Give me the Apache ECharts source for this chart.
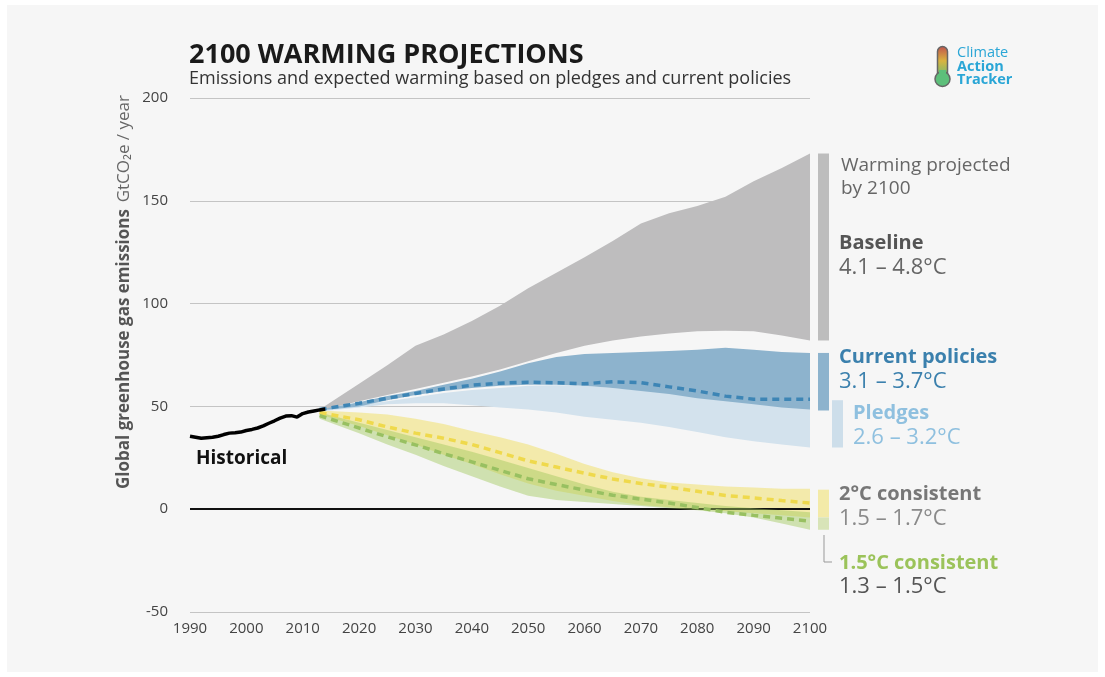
<!DOCTYPE html>
<html><head><meta charset="utf-8">
<script src="https://cdn.jsdelivr.net/npm/echarts@6/dist/echarts.min.js"></script>
<style>html,body{margin:0;padding:0;background:#fff;}#c{width:1105px;height:677px;}</style>
</head><body><div id="c"></div>
<script>
// ---------- DATA ----------
const xTicks = [1990, 2100, 10];            // min, max, step
const yTicks = [-50, 200, 50];
const histYears  = [1990,1991,1992,1993,1994,1995,1996,1997,1998,1999,2000,2001,2002,2003,2004,2005,2006,2007,2008,2009,2010,2011,2012,2013,2014];
const histValues = [35.5,35,34.5,34.8,35,35.5,36.3,37,37.2,37.5,38.3,38.8,39.5,40.5,41.8,43,44.3,45.3,45.5,44.8,46.5,47.3,47.8,48.3,48.7];

const projYears   = [2013,2020,2025,2030,2035,2040,2045,2050,2055,2060,2065,2070,2075,2080,2085,2090,2095,2100];
const baselineHi  = [48.5,61,70,79.5,85,91.5,99,107.5,115,122.5,130.5,139,144,147.5,152,159.5,166,173];
const baselineLo  = [48,52.5,55.5,58.5,61.5,64.5,68,72,76,79.5,82,84,85.5,86.5,86.8,86.5,84.5,82];
const policyHi    = [48.5,52,55,57.5,60.5,63.5,67,71,74,75.5,76,76.5,77,77.5,78.5,77.5,76.5,76];
const policyLo    = [48,50,53,55.5,57.5,59,60,60.5,60.5,60,59,57.5,56,54,52.5,51,49.5,48.5];
const policyMid   = [48.5,51.5,54,56.3,58.5,60.3,61.3,61.8,61.5,61,62,61.5,59.5,57.5,55,53.5,53.5,53.5];
const pledgeHi    = [48,50.5,52.5,54.5,56.5,58,59,60,60.3,60,59,58,56.5,55,54,53.5,53,53];
const pledgeLo    = [47.5,49.5,51,51.5,51.5,50.5,49.5,48.5,47,45,43.5,42,40,37.5,35,33,31.5,30];
const twoHi       = [48,47,46,44,41.5,38,35,31.5,27,22,18,15,13,12,11,10.5,10,10];
const twoMid      = [47,43.5,40,37,34.5,31.5,27.5,23.5,20.5,17.5,14.7,12.5,10.7,8.7,6.7,5.5,4.2,3];
const twoLo       = [46,40.5,36,31.5,26.5,22,17,12.5,9,6.5,4,2,1,0,-1,-2,-3,-4];
const oneFiveHi   = [47,42,38.5,35,31.5,28,24,20,16,12,8.5,6,4.5,3,1.5,0.5,-0.5,-1.5];
const oneFiveMid  = [45.5,39.5,35.2,31.3,27,23,18.9,14.8,12,9.3,6.8,4.9,3,0.8,-1.5,-3,-4.4,-5.8];
const oneFiveLo   = [44,37,31.5,26.5,21,16,11,6.5,4.5,3.5,2.5,1.5,0.5,-0.5,-2,-4,-7,-10];

// emission range at 2100 shown as side bars
const sideBarRanges = [[82,173],[48,76],[30,53],[-4,9.5],[-10,-4]];

// ---------- CHART ----------
const chart = echarts.init(document.getElementById('c'));
const FONT = '"Open Sans", "Noto Sans", sans-serif';

function band(name, lo, hi, color, z) {
  return {type:'custom', name:name, silent:true, z:z, clip:true,
    data: projYears.map((y,i)=>[y, lo[i], hi[i]]),
    renderItem: function(params, api){
      if (params.dataIndex !== 0) return null;
      const pts = [];
      for (let i=0;i<projYears.length;i++) pts.push(api.coord([projYears[i], hi[i]]));
      for (let i=projYears.length-1;i>=0;i--) pts.push(api.coord([projYears[i], lo[i]]));
      return {type:'polygon', shape:{points:pts}, style:{fill:color}};
    }};
}
function dashed(name, vals, color, z) {
  return {type:'line', name:name, symbol:'none', silent:true, z:z,
    lineStyle:{color:color, width:3.5, type:[7,5]},
    data: projYears.map((y,i)=>[y, vals[i]])};
}

const sideBarStyle = [
  {dx:8, w:11, color:'#bdbdbd'},
  {dx:8, w:11, color:'#8db3cd'},
  {dx:22, w:11, color:'#cddeea'},
  {dx:8, w:11, color:'#f3eaa8'},
  {dx:8, w:11, color:'#d8e4b8'}
];

const series = [
  band('Baseline', baselineLo, baselineHi, '#bebdbe', 1),
  band('Pledges', pledgeLo, pledgeHi, '#d3e2ed', 2),
  band('Current policies', policyLo, policyHi, '#8db3cd', 3),
  band('2°C consistent', twoLo, twoHi, 'rgba(240,224,110,0.55)', 4),
  band('1.5°C consistent', oneFiveLo, oneFiveHi, 'rgba(160,200,90,0.45)', 5),
  dashed('Current policies median', policyMid, '#3d85b5', 6),
  dashed('2°C median', twoMid, '#efd94c', 6),
  dashed('1.5°C median', oneFiveMid, '#98c061', 6),
  {type:'line', name:'Historical', symbol:'none', silent:true, z:8,
   lineStyle:{color:'#000', width:3.5},
   data: histYears.map((y,i)=>[y, histValues[i]]),
   markLine:{silent:true, symbol:'none', label:{show:false},
     lineStyle:{color:'#111', width:2, type:'solid'}, data:[{yAxis:0}]}},
  {type:'custom', name:'sidebars', silent:true, z:7, clip:false,
   data: sideBarRanges.map(r=>[xTicks[1], r[0], r[1]]),
   renderItem: function(params, api){
     const s = sideBarStyle[params.dataIndex];
     const p0 = api.coord([api.value(0), api.value(1)]);
     const p1 = api.coord([api.value(0), api.value(2)]);
     return {type:'rect', shape:{x:p0[0]+s.dx, y:p1[1], width:s.w, height:p0[1]-p1[1]},
             style:{fill:s.color}};
   }}
];

function txt(x, y, text, size, color, weight) {
  return {type:'text', z:100, style:{x:x, y:y, text:text, fill:color,
    font:(weight||'normal')+' '+size+'px '+FONT, verticalAlign:'middle', align:'left'}};
}

const graphics = [
  {type:'rect', z:-100, silent:true, shape:{x:7, y:5, width:1091, height:667}, style:{fill:'#f6f6f6'}},
  txt(189, 55, '2100 WARMING PROJECTIONS', 27, '#1a1a1a', 'bold'),
  txt(189, 79, 'Emissions and expected warming based on pledges and current policies', 18, '#333'),
  {type:'text', z:100, x:124, y:292, rotation:Math.PI/2,
   style:{text:'{b|Global greenhouse gas emissions}  {n|GtCO₂e / year}', align:'center', verticalAlign:'middle',
     rich:{b:{font:'bold 17px '+FONT, fill:'#555'}, n:{font:'17px '+FONT, fill:'#666'}}}},
  txt(196, 459, 'Historical', 19, '#111', 'bold'),
  txt(841, 166, 'Warming projected', 19, '#666'),
  txt(841, 189, 'by 2100', 19, '#666'),
  txt(839, 243, 'Baseline', 20, '#555', 'bold'),
  txt(839, 268, '4.1 – 4.8°C', 22, '#666'),
  txt(839, 357, 'Current policies', 20, '#3b80ad', 'bold'),
  txt(839, 382, '3.1 – 3.7°C', 22, '#3b80ad'),
  txt(853, 413, 'Pledges', 20, '#8fc0df', 'bold'),
  txt(853, 438, '2.6 – 3.2°C', 22, '#8fc0df'),
  txt(839, 494, '2°C consistent', 20, '#777', 'bold'),
  txt(839, 519, '1.5 – 1.7°C', 22, '#8a8a8a'),
  txt(839, 563, '1.5°C consistent', 20, '#9bc35a', 'bold'),
  txt(839, 587, '1.3 – 1.5°C', 22, '#555'),
  {type:'polyline', z:100, shape:{points:[[824,535],[824,562],[832,562]]}, style:{stroke:'#999', lineWidth:1, fill:null}},
  // logo
  {type:'rect', z:100, shape:{x:937.5, y:46.5, width:10, height:32, r:5},
   style:{fill:new echarts.graphic.LinearGradient(0,0,0,1,[{offset:0,color:'#c0504d'},{offset:0.45,color:'#d9b340'},{offset:1,color:'#5dbf7a'}]), stroke:'#666', lineWidth:1.5}},
  {type:'circle', z:101, shape:{cx:942.5, cy:79, r:7.5}, style:{fill:'#5dbf7a', stroke:'#666', lineWidth:1.5}},
  {type:'rect', z:102, shape:{x:939, y:70, width:7, height:8}, style:{fill:'#5dbf7a'}},
  txt(957, 53, 'Climate', 14.5, '#2aa6d6'),
  txt(957, 67, 'Action', 14.5, '#2aa6d6', 'bold'),
  txt(957, 80, 'Tracker', 14.5, '#2aa6d6', 'bold')
];

chart.setOption({
  backgroundColor:'transparent',
  animation:false,
  textStyle:{fontFamily:FONT},
  grid:{left:190, right:295, top:98, bottom:65, containLabel:false},
  xAxis:{type:'value', min:xTicks[0], max:xTicks[1], interval:xTicks[2],
    axisLine:{show:false}, axisTick:{show:false}, splitLine:{show:false},
    axisLabel:{color:'#444', fontSize:15, margin:9, fontFamily:FONT, formatter:v=>String(v)}},
  yAxis:{type:'value', min:yTicks[0], max:yTicks[1], interval:yTicks[2],
    axisLine:{show:false}, axisTick:{show:false},
    splitLine:{lineStyle:{color:'#c4c4c4', width:1}},
    axisLabel:{color:'#444', fontSize:15, margin:22, fontFamily:FONT}},
  series: series,
  graphic: graphics
});
</script>
</body></html>
